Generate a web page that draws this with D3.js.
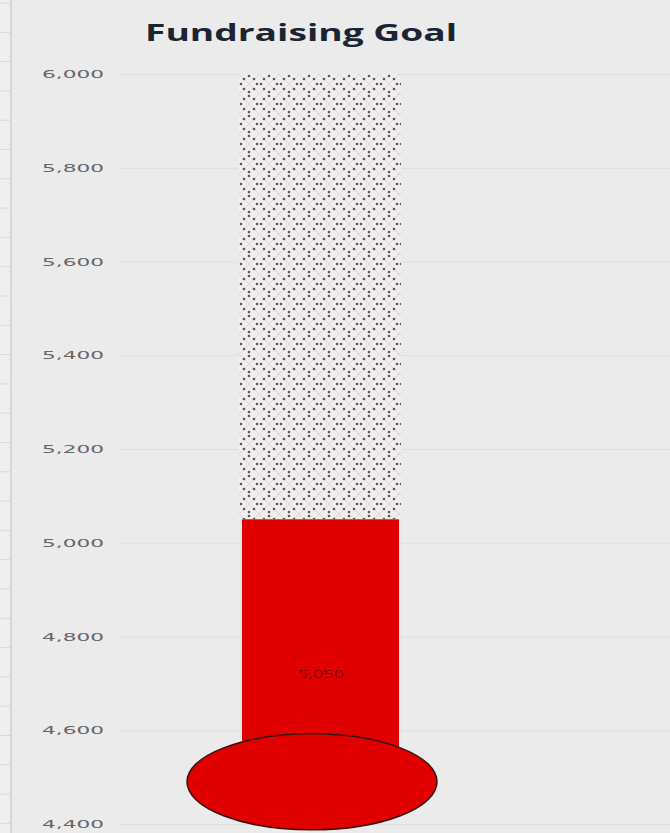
<!DOCTYPE html>
<html>
<head>
  <meta charset="utf-8">
  <script src="https://d3js.org/d3.v7.min.js"></script>
  <style>
    html, body {
        margin:0px;
        padding:0px;
        background:#ebebeb;
    }
    svg text {
        font-family: "Open Sans", "DejaVu Sans", sans-serif;
    }
  </style>
  <title>Fundraising Goal</title>
</head>
<body>
<div id="chart"></div>
<script>
    // chart data
    var categories = ["Fundraising"];
    var goal = [6000];
    var raised = [5050];
    var tickValues = [4400, 4600, 4800, 5000, 5200, 5400, 5600, 5800, 6000];
    var title = "Fundraising Goal";

    var width = 670, height = 833;

    var svg = d3.select("#chart").append("svg")
        .attr("width", width)
        .attr("height", height);

    svg.append("rect")
        .attr("width", width).attr("height", height)
        .style("fill", "#ebebeb");

    // sheet edge on the left
    svg.append("rect")
        .attr("x", 0).attr("y", 0)
        .attr("width", 11).attr("height", height)
        .style("fill", "#efefef");
    svg.append("line")
        .attr("x1", 11).attr("x2", 11)
        .attr("y1", 0).attr("y2", height)
        .style("stroke", "#d6d6d6").style("stroke-width", 2);
    svg.selectAll(".rowmark").data(d3.range(3, height, 29.3)).enter()
        .append("line")
        .attr("x1", 0).attr("x2", 10)
        .attr("y1", function(d){ return d; })
        .attr("y2", function(d){ return d; })
        .style("stroke", "#d9d9d9");

    var y = d3.scaleLinear().domain([4400, 6000]).range([824, 74]);
    var x = d3.scaleBand().domain(categories).range([239, 401]).padding(0);

    // gridlines
    svg.append("g")
        .attr("transform", "translate(120,0)")
        .call(d3.axisLeft(y).tickValues(tickValues).tickSize(-(width - 120)).tickFormat(""))
        .call(function(g){
            g.select(".domain").remove();
            g.selectAll(".tick line").style("stroke", "#dedede");
        });

    // tick labels
    svg.append("g")
        .attr("transform", "translate(104,0)")
        .call(d3.axisLeft(y).tickValues(tickValues).tickSize(0).tickPadding(0).tickFormat(d3.format(",")))
        .call(function(g){
            g.select(".domain").remove();
            g.selectAll(".tick text")
                .attr("textLength", 62)
                .attr("lengthAdjust", "spacingAndGlyphs")
                .style("font-size", "11px")
                .style("fill", "#666666")
                .style("font-family", "'DejaVu Sans', sans-serif");
        });

    // dotted pattern for the remaining goal
    var defs = svg.append("defs");
    var pat = defs.append("pattern")
        .attr("id", "dots")
        .attr("patternUnits", "userSpaceOnUse")
        .attr("width", 20).attr("height", 20)
        .attr("x", 239).attr("y", 74);
    pat.append("rect").attr("width", 20).attr("height", 20).style("fill", "#efeded");
    pat.append("path")
        .attr("d", "M0,0L10,10L20,0M0,20L10,10L20,20")
        .style("stroke", "#ddd0d0").style("stroke-width", 0.8).style("fill", "none");
    [[5,5],[15,5],[5,15],[15,15],[10,2],[10,18],[2,10],[18,10]].forEach(function(p){
        pat.append("circle").attr("cx", p[0]).attr("cy", p[1]).attr("r", 1.3).style("fill", "#5f5555");
    });

    // goal bar
    svg.selectAll(".goal").data(categories).enter()
        .append("rect")
        .attr("class", "goal")
        .attr("x", function(d){ return x(d); })
        .attr("width", x.bandwidth())
        .attr("y", function(d, i){ return y(goal[i]); })
        .attr("height", function(d, i){ return y(raised[i]) - y(goal[i]); })
        .style("fill", "url(#dots)");

    // raised bar
    svg.selectAll(".raised").data(categories).enter()
        .append("rect")
        .attr("class", "raised")
        .attr("x", function(d){ return x(d) + 3; })
        .attr("width", x.bandwidth() - 5)
        .attr("y", function(d, i){ return y(raised[i]); })
        .attr("height", function(d, i){ return y(4440) - y(raised[i]); })
        .style("fill", "#e00000");

    // bulb
    svg.selectAll(".bulb").data(categories).enter()
        .append("ellipse")
        .attr("cx", function(d){ return x(d) + x.bandwidth() / 2 - 8; })
        .attr("cy", y(4490))
        .attr("rx", 125).attr("ry", 48)
        .style("fill", "#e00000")
        .style("stroke", "#3a1010")
        .style("stroke-width", 1.5);

    // value label
    svg.selectAll(".val").data(categories).enter()
        .append("text")
        .attr("x", function(d){ return x(d) + x.bandwidth() / 2 + 1; })
        .attr("y", y(4720) + 4)
        .attr("text-anchor", "middle")
        .attr("textLength", 46)
        .attr("lengthAdjust", "spacingAndGlyphs")
        .style("font-size", "11px")
        .style("fill", "#7a0000")
        .text(function(d, i){ return d3.format(",")(raised[i]); });

    // title
    svg.append("text")
        .attr("x", 301).attr("y", 41)
        .attr("text-anchor", "middle")
        .attr("textLength", 312)
        .attr("lengthAdjust", "spacingAndGlyphs")
        .style("font-size", "24px")
        .style("font-weight", "bold")
        .style("fill", "#1b2433")
        .text(title);
</script>
</body>
</html>
